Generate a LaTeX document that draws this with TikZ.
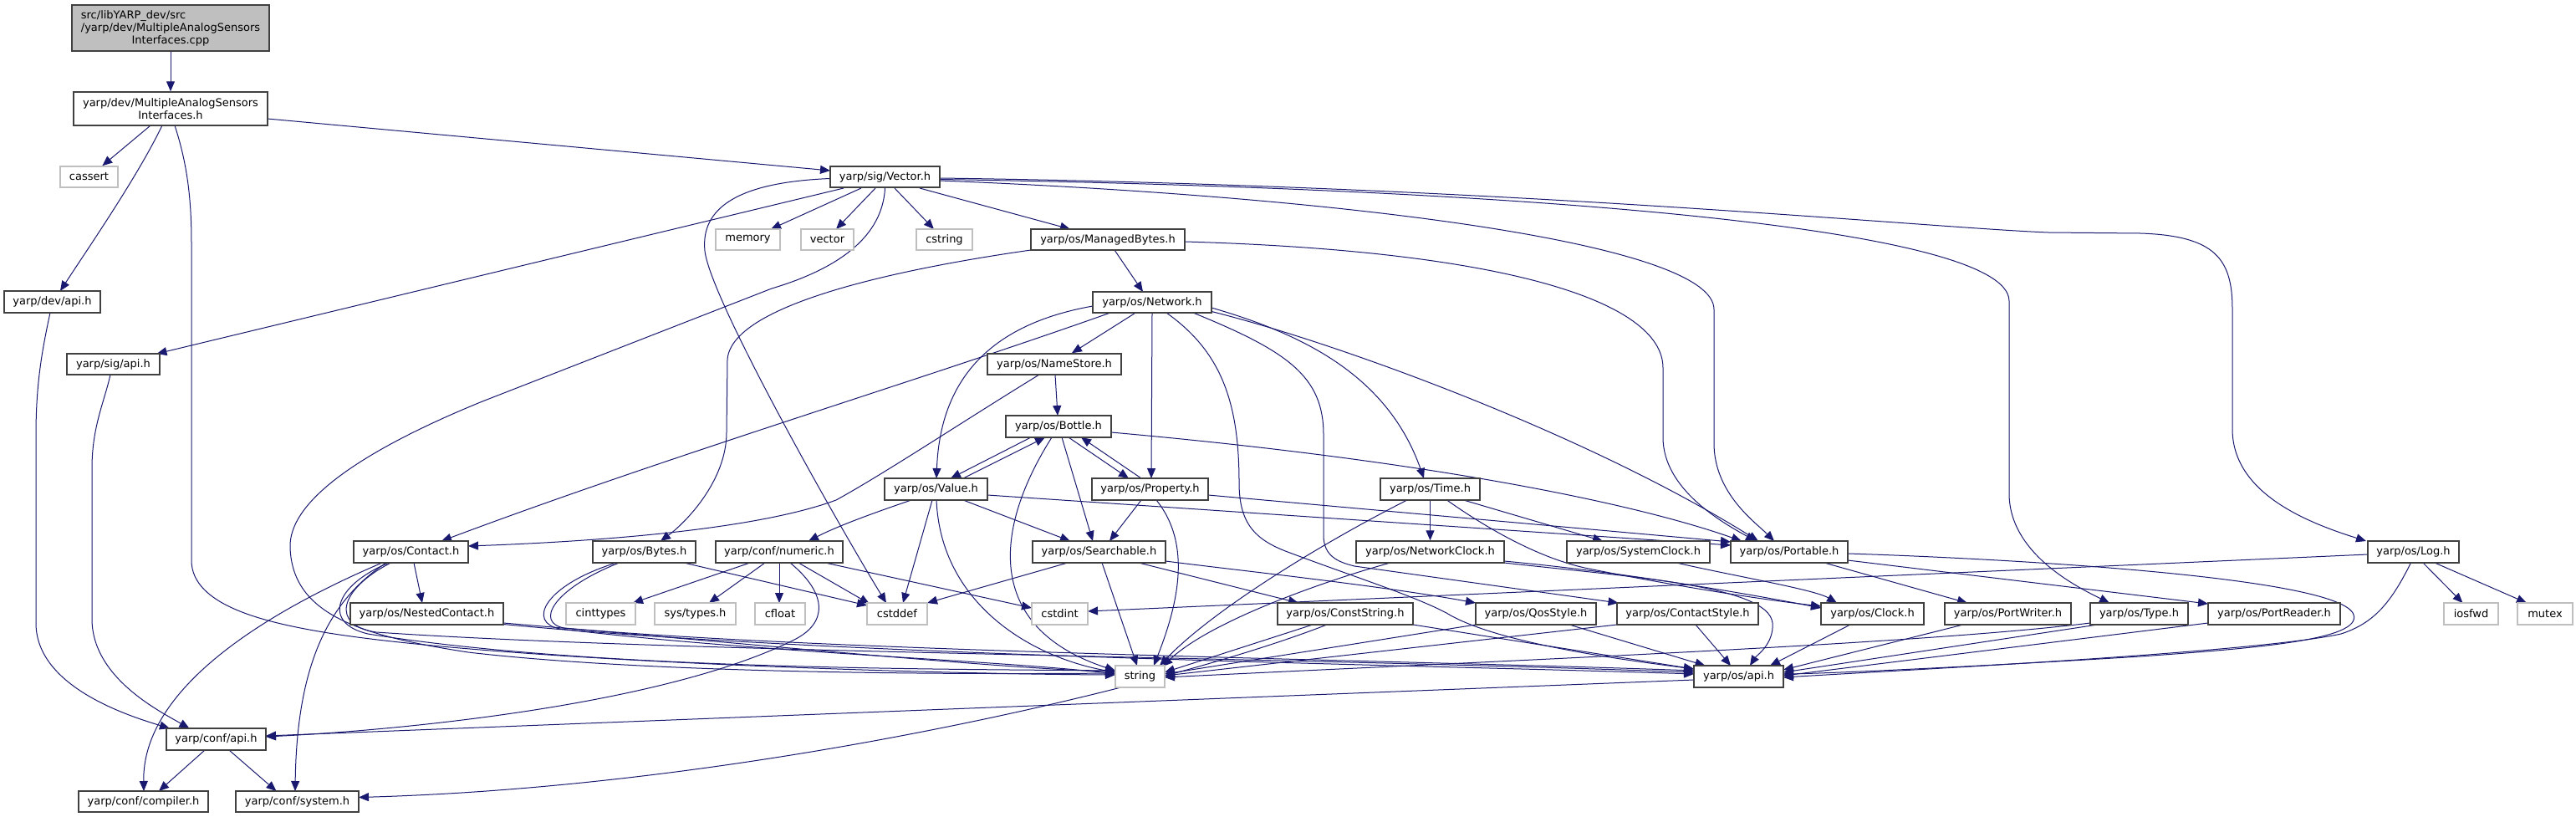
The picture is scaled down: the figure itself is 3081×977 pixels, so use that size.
\documentclass[tikz,border=0pt]{standalone}
\usepackage{fontspec}
\setmainfont{DejaVu Sans}
\usetikzlibrary{arrows.meta,calc}
\definecolor{edgec}{HTML}{191970}
\definecolor{hdrc}{HTML}{404040}
\definecolor{sysc}{HTML}{BFBFBF}
\newcommand\nodefnt{\fontsize{13}{15}\selectfont}
\newcommand\fnode[7]{\node[#1, minimum width={(#4-#3)*1pt}, minimum height={(#6-#5)*1pt}] (#2) at ({(#3+#4)/2},{(#5+#6)/2}) {#7};}
\pgfdeclarelayer{back}\pgfdeclarelayer{bg}\pgfsetlayers{back,bg,main}
\begin{document}
\begin{tikzpicture}[x=1pt,y=-1pt,
  hdrbox/.style={draw=hdrc, line width=1.5pt, fill=white, inner sep=0pt, font=\nodefnt, align=center},
  sysbox/.style={hdrbox, draw=sysc},
  rootbox/.style={hdrbox, fill=sysc},
  edg/.style={draw=edgec, line width=1pt, -{Triangle[length=12pt,width=10pt]}}]
\useasboundingbox (0,0) rectangle (3081,977);
\begin{pgfonlayer}{back}\fill[white] (0,0) rectangle (3081,977);\end{pgfonlayer}
% nodes
\fnode{rootbox}{cpp}{86}{322}{6}{61}{\setbox0=\hbox{/yarp/dev/MultipleAnalogSensors}\makebox[\wd0][l]{src/libYARP\_dev/src}\\/yarp/dev/MultipleAnalogSensors\\Interfaces.cpp}
\fnode{hdrbox}{masi}{88}{320}{110}{150}{yarp/dev/MultipleAnalogSensors\\Interfaces.h}
\fnode{sysbox}{cassert}{72}{141}{199}{224}{cassert}
\fnode{hdrbox}{devapi}{5}{120}{348}{374}{yarp/dev/api.h}
\fnode{hdrbox}{sigapi}{80}{191}{423}{448}{yarp/sig/api.h}
\fnode{hdrbox}{vech}{993}{1124}{199}{224}{yarp/sig/Vector.h}
\fnode{sysbox}{memory}{856}{933}{274}{299}{memory}
\fnode{sysbox}{vector}{958}{1021}{274}{299}{vector}
\fnode{sysbox}{cstring}{1096}{1163}{274}{299}{cstring}
\fnode{hdrbox}{mbytes}{1233}{1417}{274}{299}{yarp/os/ManagedBytes.h}
\fnode{hdrbox}{network}{1307}{1449}{349}{374}{yarp/os/Network.h}
\fnode{hdrbox}{namestore}{1181}{1341}{423}{448}{yarp/os/NameStore.h}
\fnode{hdrbox}{bottle}{1203}{1329}{497}{523}{yarp/os/Bottle.h}
\fnode{hdrbox}{value}{1058}{1181}{572}{598}{yarp/os/Value.h}
\fnode{hdrbox}{property}{1306}{1445}{572}{598}{yarp/os/Property.h}
\fnode{hdrbox}{time}{1651}{1770}{572}{598}{yarp/os/Time.h}
\fnode{hdrbox}{contact}{423}{560}{647}{673}{yarp/os/Contact.h}
\fnode{hdrbox}{bytes}{709}{832}{647}{673}{yarp/os/Bytes.h}
\fnode{hdrbox}{numeric}{856}{1008}{647}{673}{yarp/conf/numeric.h}
\fnode{hdrbox}{searchable}{1235}{1394}{647}{673}{yarp/os/Searchable.h}
\fnode{hdrbox}{netclock}{1622}{1799}{647}{673}{yarp/os/NetworkClock.h}
\fnode{hdrbox}{sysclock}{1874}{2045}{647}{673}{yarp/os/SystemClock.h}
\fnode{hdrbox}{portable}{2070}{2210}{647}{673}{yarp/os/Portable.h}
\fnode{hdrbox}{log}{2832}{2941}{647}{673}{yarp/os/Log.h}
\fnode{hdrbox}{nested}{419}{602}{721}{747}{yarp/os/NestedContact.h}
\fnode{sysbox}{cinttypes}{677}{760}{721}{747}{cinttypes}
\fnode{sysbox}{systypes}{783}{880}{721}{747}{sys/types.h}
\fnode{sysbox}{cfloat}{903}{963}{721}{747}{cfloat}
\fnode{sysbox}{cstddef}{1037}{1109}{721}{747}{cstddef}
\fnode{sysbox}{cstdint}{1234}{1301}{721}{747}{cstdint}
\fnode{hdrbox}{conststring}{1528}{1690}{721}{747}{yarp/os/ConstString.h}
\fnode{hdrbox}{qos}{1765}{1909}{721}{747}{yarp/os/QosStyle.h}
\fnode{hdrbox}{cstyle}{1934}{2103}{721}{747}{yarp/os/ContactStyle.h}
\fnode{hdrbox}{clock}{2178}{2301}{721}{747}{yarp/os/Clock.h}
\fnode{hdrbox}{pwriter}{2326}{2477}{721}{747}{yarp/os/PortWriter.h}
\fnode{hdrbox}{type}{2500}{2617}{721}{747}{yarp/os/Type.h}
\fnode{hdrbox}{preader}{2641}{2799}{721}{747}{yarp/os/PortReader.h}
\fnode{sysbox}{iosfwd}{2923}{2988}{721}{747}{iosfwd}
\fnode{sysbox}{mutex}{3011}{3077}{721}{747}{mutex}
\fnode{sysbox}{string}{1334}{1393}{796}{822}{string}
\fnode{hdrbox}{osapi}{2026}{2133}{796}{822}{yarp/os/api.h}
\fnode{hdrbox}{confapi}{199}{318}{871}{897}{yarp/conf/api.h}
\fnode{hdrbox}{compiler}{94}{249}{946}{971}{yarp/conf/compiler.h}
\fnode{hdrbox}{system}{282}{429}{946}{971}{yarp/conf/system.h}
% edges
\begin{pgfonlayer}{bg}
\draw[edg] (cpp) -- (masi);
\draw[edg] (masi) -- (cassert);
\draw[edg] ($(masi)+(-10,20)$) .. controls (165,210) and (110,290) .. ($(devapi)+(9.5,-13)$);
\draw[edg] ($(masi)+(5,20)$) .. controls (222,190) and (229,230) .. (229,290) -- (229,670) .. controls (229,725) and (320,745) .. (393,757) .. controls (600,790) and (1100,806) .. ($(string)+(-29.5,-2)$);
\draw[edg] ($(masi)+(116,12)$) -- ($(vech)+(-65.5,-7.5)$);
\draw[edg] ($(devapi)+(-2.5,13)$) .. controls (50,420) and (43,460) .. (43,520) -- (43,745) .. controls (43,820) and (150,855) .. ($(confapi)+(-55.5,-13)$);
\draw[edg] ($(sigapi)+(-3.5,12.5)$) .. controls (125,480) and (110,510) .. (110,560) -- (110,740) .. controls (110,810) and (190,850) .. ($(confapi)+(-32,-13)$);
% Vector.h
\draw[edg] ($(vech)+(-49.5,13.5)$) -- ($(sigapi)+(52,-12.5)$);
\draw[edg] ($(vech)+(-28.5,13.5)$) -- ($(memory)+(27.5,-12.5)$);
\draw[edg] ($(vech)+(-11.5,13.5)$) -- ($(vector)+(10.5,-12.5)$);
\draw[edg] ($(vech)+(11.5,13.5)$) -- ($(cstring)+(-12.5,-12.5)$);
\draw[edg] ($(vech)+(41.5,13.5)$) -- ($(mbytes)+(-45,-12.5)$);
\draw[edg] ($(vech)+(-65.5,2)$) .. controls (880,218) and (838,250) .. (843,300) .. controls (850,360) and (1010,640) .. ($(cstddef)+(-13,-13)$);
\draw[edg] ($(vech)+(0,13.5)$) .. controls (1055,290) and (990,325) .. (923,345) -- (577,480) .. controls (430,540) and (345,600) .. (347,655) .. controls (350,735) and (430,760) .. (560,780) .. controls (800,808) and (1200,806) .. ($(string)+(-29.5,-4)$);
\draw[edg] ($(vech)+(65.5,4.5)$) .. controls (1600,235) and (2050,290) .. (2050,370) -- (2050,530) .. controls (2050,590) and (2100,625) .. ($(portable)+(-18,-13)$);
\draw[edg] ($(vech)+(65.5,3)$) .. controls (1800,225) and (2403,270) .. (2403,360) -- (2403,590) .. controls (2403,660) and (2480,700) .. ($(type)+(-35.5,-13)$);
\draw[edg] ($(vech)+(65.5,1.5)$) .. controls (1800,222) and (2300,272) .. (2450,278) -- (2560,279) .. controls (2650,282) and (2670,310) .. (2670,370) -- (2670,513) .. controls (2670,590) and (2760,625) .. ($(log)+(-56.5,-13)$);
% ManagedBytes.h
\draw[edg] ($(mbytes)+(-92,12.5)$) .. controls (1100,318) and (875,360) .. (870,430) -- (869,517) .. controls (869,575) and (820,625) .. ($(bytes)+(19.5,-13)$);
\draw[edg] ($(mbytes)+(8,12.5)$) -- ($(network)+(-11,-12.5)$);
\draw[edg] ($(mbytes)+(92,2.5)$) .. controls (1800,300) and (1989,360) .. (1989,440) -- (1989,523) .. controls (1989,585) and (2060,625) .. ($(portable)+(-40,-13)$);
% Network.h
\draw[edg] ($(network)+(-50,12.5)$) .. controls (1100,455) and (800,545) .. ($(contact)+(36.5,-13)$);
\draw[edg] ($(network)+(-71,4.5)$) .. controls (1200,385) and (1125,440) .. ($(value)+(0.5,-13)$);
\draw[edg] (network) -- (namestore);
\draw[edg] ($(network)+(0,12.5)$) -- ($(property)+(1.5,-13)$);
\draw[edg] ($(network)+(17,12.5)$) .. controls (1460,420) and (1482,480) .. (1482,577) .. controls (1482,625) and (1500,645) .. (1540,660) .. controls (1620,690) and (1690,712) .. (1730,733) .. controls (1790,770) and (1950,790) .. ($(osapi)+(-53.5,-9)$);
\draw[edg] ($(network)+(49,12.5)$) .. controls (1540,420) and (1583,450) .. (1583,520) -- (1583,640) .. controls (1583,665) and (1600,672) .. (1620,677) -- ($(cstyle)+(-83,-13)$);
\draw[edg] ($(network)+(71,6.5)$) .. controls (1560,400) and (1660,450) .. ($(time)+(-7.5,-13)$);
\draw[edg] ($(network)+(71,11)$) .. controls (1600,410) and (1900,520) .. ($(portable)+(-37,-13)$);
% NameStore.h
\draw[edg] ($(namestore)+(1,12.5)$) -- ($(bottle)+(-1,-13)$);
\draw[edg] ($(namestore)+(-18,12.5)$) .. controls (1150,505) and (1060,565) .. (1000,598) .. controls (900,635) and (700,648) .. ($(contact)+(68.5,-7)$);
% Bottle / Value / Property / Searchable
\draw[edg] ($(bottle)+(-33,13)$) -- ($(value)+(17.5,-13)$);
\draw[edg] ($(value)+(32.5,-13)$) -- ($(bottle)+(-16,13)$);
\draw[edg] ($(bottle)+(12,13)$) -- ($(property)+(-25.5,-13)$);
\draw[edg] ($(property)+(-10.5,-13)$) -- ($(bottle)+(27,13)$);
\draw[edg] ($(bottle)+(4,13)$) -- ($(searchable)+(-7.5,-13)$);
\draw[edg] ($(bottle)+(-8,13)$) .. controls (1190,630) and (1175,750) .. ($(string)+(-29.5,-7)$);
\draw[edg] ($(bottle)+(63,7)$) .. controls (1700,550) and (1950,600) .. ($(portable)+(-57,-13)$);
\draw[edg] ($(value)+(32.5,13)$) -- ($(searchable)+(-34.5,-13)$);
\draw[edg] ($(value)+(-29.5,13)$) .. controls (1040,615) and (1000,630) .. ($(numeric)+(35,-13)$);
\draw[edg] ($(value)+(-4.5,13)$) -- ($(cstddef)+(7,-13)$);
\draw[edg] ($(value)+(0.5,13)$) .. controls (1125,720) and (1230,785) .. ($(string)+(-29.5,-5)$);
\draw[edg] ($(value)+(61.5,7)$) -- ($(portable)+(-70,-8)$);
\draw[edg] ($(property)+(-10.5,13)$) -- ($(searchable)+(12.5,-13)$);
\draw[edg] ($(property)+(7.5,13)$) .. controls (1425,650) and (1410,720) .. ($(string)+(16.5,-13)$);
\draw[edg] ($(property)+(69.5,7)$) -- ($(portable)+(-70,-12)$);
\draw[edg] ($(searchable)+(-37.5,13)$) -- ($(cstddef)+(36,-13)$);
\draw[edg] ($(searchable)+(3.5,13)$) -- ($(string)+(-3.5,-13)$);
\draw[edg] ($(searchable)+(47.5,13)$) -- ($(conststring)+(-56,-13)$);
\draw[edg] ($(searchable)+(79.5,11)$) .. controls (1480,682) and (1650,700) .. ($(qos)+(-72,-13)$);
% Time / clocks
\draw[edg] (time) -- (netclock);
\draw[edg] ($(time)+(40,13)$) -- ($(sysclock)+(-42.5,-13)$);
\draw[edg] ($(time)+(20,13)$) .. controls (1790,640) and (1850,670) .. (1900,680) .. controls (2000,700) and (2100,716) .. ($(clock)+(-61.5,-9)$);
\draw[edg] ($(time)+(-27.5,13)$) .. controls (1580,650) and (1450,730) .. ($(string)+(23.5,-13)$);
\draw[edg] ($(netclock)+(88.5,11)$) .. controls (1950,685) and (2100,712) .. ($(clock)+(-61.5,-7)$);
\draw[edg] ($(netclock)+(88.5,13)$) .. controls (1950,690) and (2115,700) .. (2120,745) .. controls (2122,770) and (2100,785) .. ($(osapi)+(13.5,-13)$);
\draw[edg] ($(netclock)+(-47.5,13)$) .. controls (1600,690) and (1450,740) .. ($(string)+(27,-12)$);
\draw[edg] ($(sysclock)+(45.5,13)$) .. controls (2080,690) and (2170,705) .. ($(clock)+(-42.5,-13)$);
% Contact / NestedContact
\draw[edg] ($(contact)+(3.5,13)$) -- ($(nested)+(-5.5,-13)$);
\draw[edg] ($(contact)+(-34.5,13)$) .. controls (300,740) and (170,830) .. ($(compiler)+(0.5,-12.5)$);
\draw[edg] ($(contact)+(-29.5,13)$) .. controls (390,720) and (355,800) .. ($(system)+(-2.5,-12.5)$);
\draw[edg] ($(contact)+(-26.5,13)$) .. controls (400,700) and (385,745) .. (440,758) .. controls (700,800) and (1100,800) .. ($(string)+(-29.5,-7)$);
\draw[edg] ($(contact)+(-24,13)$) .. controls (405,705) and (395,748) .. (450,756) .. controls (800,780) and (1500,785) .. ($(osapi)+(-53.5,-5)$);
\draw[edg] ($(nested)+(91.5,11)$) .. controls (900,770) and (1200,800) .. ($(string)+(-29.5,-6)$);
\draw[edg] ($(nested)+(91.5,12.5)$) .. controls (1000,785) and (1700,795) .. ($(osapi)+(-53.5,-3)$);
% Bytes
\draw[edg] ($(bytes)+(47.5,13)$) -- ($(cstddef)+(-36,-10)$);
\draw[edg] ($(bytes)+(-33.5,13)$) .. controls (650,700) and (630,745) .. (670,752) .. controls (900,780) and (1200,790) .. ($(string)+(-29.5,-3)$);
\draw[edg] ($(bytes)+(-30,13)$) .. controls (660,705) and (640,745) .. (675,751) .. controls (1000,780) and (1700,790) .. ($(osapi)+(-53.5,-7)$);
% numeric
\draw[edg] ($(numeric)+(-35,13)$) -- ($(cinttypes)+(38.5,-13)$);
\draw[edg] ($(numeric)+(-17,13)$) -- ($(systypes)+(16.5,-13)$);
\draw[edg] ($(numeric)+(0,13)$) -- ($(cfloat)+(-1,-13)$);
\draw[edg] ($(numeric)+(13,13)$) .. controls (990,710) and (990,745) .. (950,765) .. controls (800,840) and (500,872) .. ($(confapi)+(59.5,-3)$);
\draw[edg] ($(numeric)+(23,13)$) -- ($(cstddef)+(-33,-12)$);
\draw[edg] ($(numeric)+(55,13)$) -- ($(cstdint)+(-33.5,-7)$);
% ConstString / QosStyle / ContactStyle / Clock
\draw[edg] ($(conststring)+(-39,13)$) -- ($(string)+(29.5,-5)$);
\draw[edg] ($(conststring)+(-22,13)$) .. controls (1400,820) and (900,940) .. ($(system)+(73.5,-5)$);
\draw[edg] ($(conststring)+(81,13)$) -- ($(osapi)+(-53.5,-9)$);
\draw[edg] ($(qos)+(-72,13)$) -- ($(string)+(29.5,-3)$);
\draw[edg] ($(qos)+(40,13)$) -- ($(osapi)+(-40,-13)$);
\draw[edg] ($(cstyle)+(-84.5,13)$) -- ($(string)+(29.5,-1)$);
\draw[edg] ($(cstyle)+(9.5,13)$) -- ($(osapi)+(-9.5,-13)$);
\draw[edg] ($(clock)+(-26.5,13)$) -- ($(osapi)+(37.5,-13)$);
% Portable / writers / Type / Log
\draw[edg] ($(portable)+(42,13)$) -- ($(pwriter)+(-48.5,-13)$);
\draw[edg] ($(portable)+(70,10)$) -- ($(preader)+(-79,-12)$);
\draw[edg] ($(portable)+(70,2)$) .. controls (2400,668) and (2800,690) .. (2815,735) .. controls (2825,765) and (2700,775) .. (2560,785) .. controls (2400,795) and (2200,805) .. ($(osapi)+(53.5,-3)$);
\draw[edg] ($(pwriter)+(-53.5,13)$) -- ($(osapi)+(53.5,-8)$);
\draw[edg] ($(type)+(-58.5,11)$) .. controls (2300,770) and (1800,790) .. ($(string)+(29.5,1)$);
\draw[edg] ($(type)+(-50,13)$) -- ($(osapi)+(53.5,-5)$);
\draw[edg] ($(preader)+(-79,11)$) -- ($(osapi)+(53.5,-1)$);
\draw[edg] ($(log)+(-54.5,3)$) -- ($(cstdint)+(33.5,-3)$);
\draw[edg] ($(log)+(-3,13)$) .. controls (2860,720) and (2840,745) .. (2800,758) .. controls (2700,780) and (2300,800) .. ($(osapi)+(53.5,1)$);
\draw[edg] ($(log)+(11.5,13)$) -- ($(iosfwd)+(-10,-13)$);
\draw[edg] ($(log)+(25.5,13)$) -- ($(mutex)+(-22,-13)$);
% api
\draw[edg] ($(osapi)+(-53.5,4)$) -- ($(confapi)+(59.5,-4)$);
\draw[edg] ($(confapi)+(-13.5,13)$) -- ($(compiler)+(18.5,-12.5)$);
\draw[edg] ($(confapi)+(15.5,13)$) -- ($(system)+(-25,-12.5)$);
\end{pgfonlayer}
\end{tikzpicture}
\end{document}
